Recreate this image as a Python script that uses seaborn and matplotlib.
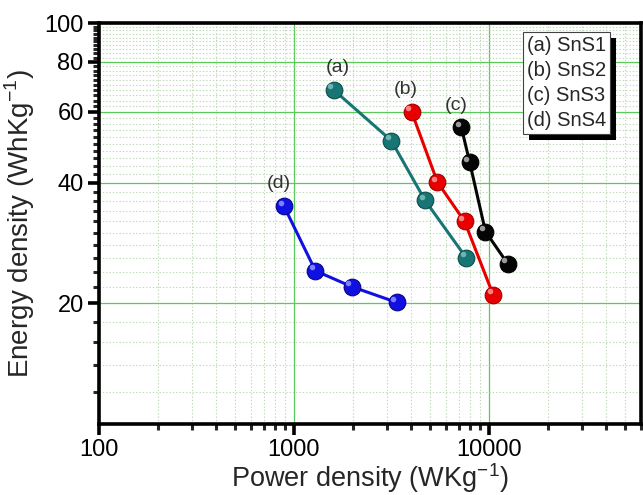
import numpy as np
import pandas as pd
import matplotlib
matplotlib.use("Agg")
import matplotlib.pyplot as plt
import matplotlib.ticker as mticker
import matplotlib.transforms as mtransforms
from matplotlib.patches import Rectangle
from matplotlib.lines import Line2D
import seaborn as sns

# ---------------- data ----------------
tags = ["(a)", "(b)", "(c)", "(d)"]
names = ["SnS1", "SnS2", "SnS3", "SnS4"]
power_a = [1600, 3160, 4710, 7640]
energy_a = [68.1, 50.9, 36.1, 26.0]
power_b = [4020, 5450, 7510, 10520]
energy_b = [60.0, 40.1, 32.0, 21.0]
power_c = [7230, 7980, 9610, 12500]
energy_c = [54.9, 44.9, 30.2, 25.1]
power_d = [890, 1290, 1980, 3370]
energy_d = [34.9, 24.1, 22.0, 20.1]
x_ticks = [100, 1000, 10000]
y_ticks = [20, 40, 60, 80, 100]

colors = ["#177574", "#e80000", "#050505", "#1010e0"]
edge_colors = ["#0b4d4c", "#a00000", "#000000", "#05058a"]
high_colors = ["#6fb3b2", "#ff8080", "#9a9a9a", "#8080ff"]

series = [(power_a, energy_a), (power_b, energy_b),
          (power_c, energy_c), (power_d, energy_d)]

sns.set_style("white")
plt.rcParams["font.family"] = ["Liberation Sans", "DejaVu Sans"]
plt.rcParams["mathtext.fontset"] = "custom"
plt.rcParams["mathtext.rm"] = "Liberation Sans"

fig = plt.figure(figsize=(6.43, 4.95), dpi=100)
ax = fig.add_axes([99 / 643, 1 - 424 / 495, (640.5 - 99) / 643, (424 - 23) / 495])

ax.set_xscale("log")
ax.set_yscale("log")
ax.set_xlim(100, 60000)
ax.set_ylim(10, 100)

# grid
ax.set_axisbelow(True)
ax.grid(which="major", color="#5acb5a", lw=0.9, ls="-")
ax.grid(which="minor", color="#bfd9b8", lw=0.8, ls=(0, (1.2, 1.8)))

for i, (px, ey) in enumerate(series):
    df = pd.DataFrame({"power": px, "energy": ey})
    sns.lineplot(data=df, x="power", y="energy", ax=ax, sort=False,
                 estimator=None, color=colors[i], lw=2.2, marker="o",
                 markersize=12, markerfacecolor=colors[i],
                 markeredgecolor=edge_colors[i], markeredgewidth=0.8,
                 zorder=3)
    off = mtransforms.ScaledTranslation(-2.5 / 72, 2.5 / 72, fig.dpi_scale_trans)
    ax.plot(px, ey, "o", ms=4, color=high_colors[i], mec="none",
            transform=ax.transData + off, zorder=4)
    ax.annotate(tags[i], xy=(px[0], ey[0]), xytext=(3 if i == 0 else -4, 10),
                textcoords="offset points", ha="center", va="bottom",
                fontsize=14, color="#333333")

# ticks
ax.xaxis.set_major_locator(mticker.FixedLocator(x_ticks))
ax.xaxis.set_major_formatter(mticker.FixedFormatter([str(v) for v in x_ticks]))
ax.xaxis.set_minor_locator(mticker.LogLocator(base=10, subs=np.arange(2, 10)))
ax.xaxis.set_minor_formatter(mticker.NullFormatter())

ax.yaxis.set_major_locator(mticker.FixedLocator(y_ticks))
ax.yaxis.set_major_formatter(mticker.FixedFormatter([str(v) for v in y_ticks]))
ymin_ticks = [v for v in range(12, 100, 2) if v not in y_ticks]
ax.yaxis.set_minor_locator(mticker.FixedLocator(ymin_ticks))
ax.yaxis.set_minor_formatter(mticker.NullFormatter())

ax.tick_params(which="major", direction="out", length=8, width=2.6,
               labelsize=17, colors="black", pad=3, bottom=True, left=True,
               top=False, right=False)
ax.tick_params(which="minor", direction="out", length=4.5, width=2.2,
               bottom=True, left=True, top=False, right=False)

for sp in ax.spines.values():
    sp.set_visible(True)
    sp.set_color("black")
    sp.set_linewidth(2.6)

ax.set_xlabel("Power density (WKg$^{-1}$)", fontsize=19.5, labelpad=0)
ax.set_ylabel("Energy density (WhKg$^{-1}$)", fontsize=20, labelpad=5)

# legend (text only, with solid black shadow)
handles = [Line2D([], [], lw=0, marker=None) for _ in names]
labels = [f"{t} {n}" for t, n in zip(tags, names)]
leg = ax.legend(handles, labels, loc="upper left", bbox_to_anchor=(0.783, 0.978),
                borderaxespad=0, handlelength=0, handletextpad=0, fontsize=14.5,
                labelspacing=0.3, borderpad=0.2, fancybox=False,
                frameon=True, edgecolor="#444444", framealpha=1)
leg.get_frame().set_linewidth(0.8)
leg.set_zorder(10)

fig.canvas.draw()
bb = leg.get_window_extent()
shadow = Rectangle((bb.x0 + 6, bb.y0 - 6), bb.width, bb.height,
                   transform=mtransforms.IdentityTransform(),
                   facecolor="black", edgecolor="none", zorder=9)
ax.add_artist(shadow)

fig.savefig("out.png", dpi=100)
